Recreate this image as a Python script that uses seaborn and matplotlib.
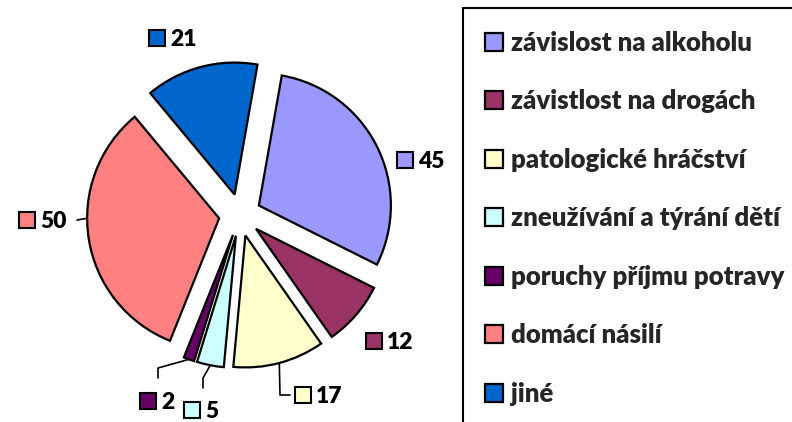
import matplotlib
matplotlib.use('Agg')
import matplotlib.pyplot as plt
import seaborn as sns
import numpy as np
from matplotlib.patches import Rectangle

categories = ['závislost na alkoholu', 'závistlost na drogách', 'patologické hráčství',
              'zneužívání a týrání dětí', 'poruchy příjmu potravy', 'domácí násilí', 'jiné']
counts = [45, 12, 17, 5, 2, 50, 21]
colors = ['#9999FF', '#993366', '#FFFFCC', '#CCFFFF', '#660066', '#FF8080', '#0066CC']

# picture geometry in pixels (792x422), pie centre and radius
W, H = 792, 422
CX, CY, R = 240, 215, 132

# where the little value labels sit (pixels), and leader-line elbows
label_px = [(405, 160), (374, 341), (303, 395), (192, 410), (148, 401), (27, 220), (157, 38)]
leader_px = {
    2: [(280, 395), (290, 395)],
    3: [(203, 378), (203, 388)],
    4: [(158, 368), (158, 378)],
    5: [(77, 220)],
}
leader_angle = {5: 180}


def to_data(x, y):
    return (x - CX) / R, (CY - y) / R


sns.set_theme(style='white')
plt.rcParams['font.family'] = ['Lato', 'DejaVu Sans']

fig = plt.figure(figsize=(W / 100, H / 100), dpi=100)
ax = fig.add_axes([0, 0, 1, 1])
wedges, _ = ax.pie(counts, colors=colors, startangle=80, counterclock=False,
                   explode=[0.16] * len(counts),
                   wedgeprops=dict(edgecolor='black', linewidth=1.6))
ax.set_xlim(-CX / R, (W - CX) / R)
ax.set_ylim(-(H - CY) / R, CY / R)
ax.set_aspect('auto')
ax.axis('off')

# value labels with colour squares
for (sx, sy), val, col in zip(label_px, counts, colors):
    x, y = to_data(sx, sy)
    ax.plot(x, y, marker='s', ms=11.5, mfc=col, mec='black', mew=1.5, ls='none')
    ax.text(x + 13 / R, y - 8 / R, str(val), ha='left', va='baseline',
            fontsize=16.5, fontweight='heavy', color='black')

# leader lines
for i, pts in leader_px.items():
    w = wedges[i]
    ang = leader_angle.get(i, (w.theta1 + w.theta2) / 2)
    cx, cy = w.center
    start = (cx + np.cos(np.radians(ang)), cy + np.sin(np.radians(ang)))
    path = [start] + [to_data(px, py) for px, py in pts]
    xs, ys = zip(*path)
    ax.plot(xs, ys, color='black', lw=1.2)

fig.legend(wedges, categories, loc='upper left', bbox_to_anchor=(485 / W, 1 - 31 / H),
           frameon=False, prop={'weight': 'heavy', 'size': 18.5},
           handlelength=0.7, handleheight=0.7, handletextpad=0.3,
           labelspacing=1.34, borderpad=0, borderaxespad=0)

fig.patches.append(Rectangle((463 / W, -0.05), 0.6, 1.05 - 8 / H, transform=fig.transFigure,
                             fill=False, edgecolor='black', lw=1.5))

fig.savefig('out.png', dpi=100)
